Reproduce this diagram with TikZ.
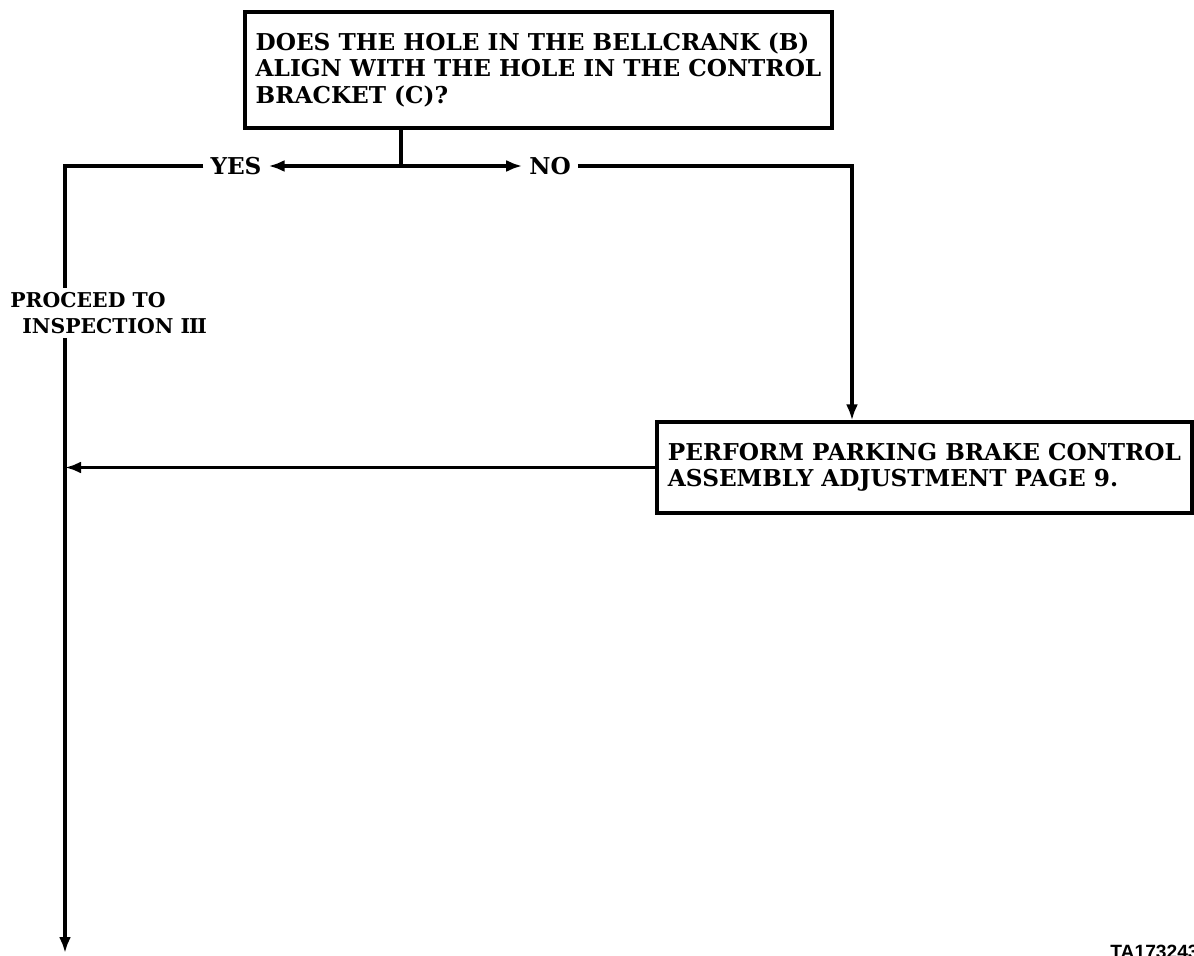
\documentclass[tikz,border=0pt]{standalone}
\usepackage{fontspec}
\setmainfont{DejaVu Serif}
\newfontfamily\tagfont{Liberation Sans}
\usetikzlibrary{arrows.meta,positioning}

\begin{document}
\begin{tikzpicture}[x=0.5pt, y=-0.5pt, >={Latex[length=8pt,width=6pt]},
  every node/.style={font=\bfseries\fontsize{11.6}{13.3}\selectfont},
  box/.style={draw, line width=1.6pt, rectangle, align=left, inner sep=0pt},
  conn/.style={line width=1.6pt}]
\useasboundingbox (0,0) rectangle (1194,956);
% question box
\node[box, minimum width=293.5pt, minimum height=58pt] (question) at (538.5,70)
  {DOES THE HOLE IN THE BELLCRANK (B)\\ALIGN WITH THE HOLE IN THE CONTROL\\BRACKET (C)?};
\coordinate (split) at (401,166);
\node (yes) at (236,166) {YES};
\node (no) at (550,166) {NO};
\coordinate (yescorner) at (65,166);
\coordinate (nocorner) at (852,166);
\node[align=left, anchor=west, inner sep=2pt, font=\bfseries\fontsize{10.2}{13}\selectfont] (proceed) at (6,313)
  {PROCEED TO\\\hspace*{6pt}INSPECTION I\kern-.6ptI\kern-.6ptI};
% action box
\node[box, minimum width=267.5pt, minimum height=45.5pt] (action) at (924.5,467.5)
  {PERFORM PARKING BRAKE CONTROL\\ASSEMBLY ADJUSTMENT PAGE 9.};
\coordinate (bottom) at (65,953);
\node[anchor=north west, inner sep=0pt, font=\tagfont\bfseries\fontsize{9.6}{10}\selectfont] (tag) at (1110,945) {TA173243};
% connectors
\draw[conn] (question.south -| split) -- (split);
\draw[conn,->] (split) -- (yes.east);
\draw[conn,->] (split) -- (no.west);
\draw[conn] (yes.west) -- (yescorner) -- (yescorner |- proceed.north);
\draw[conn,->] (no.east) -- (nocorner) -- (nocorner |- action.north);
\draw[conn,->] (action.west) -- (yescorner |- action.west);
\draw[conn,->] (yescorner |- proceed.south) -- (bottom);
\end{tikzpicture}
\end{document}
